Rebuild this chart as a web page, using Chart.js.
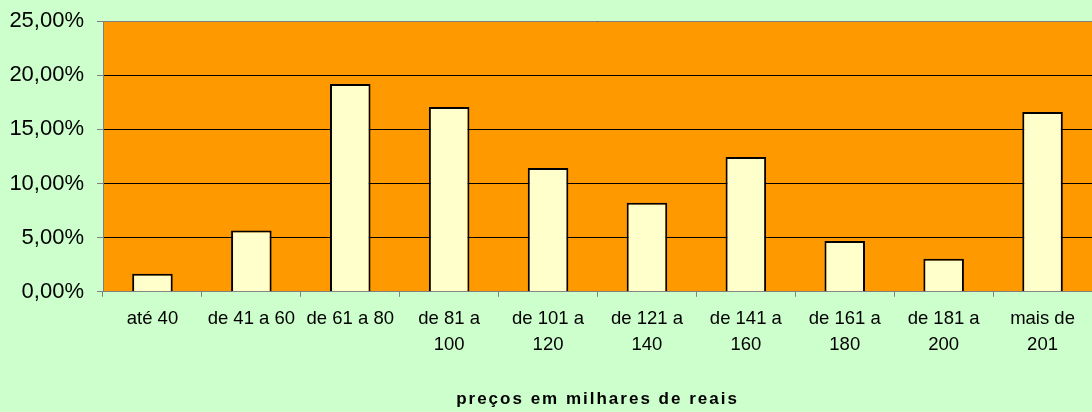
<!DOCTYPE html>
<html>
<head>
<meta charset="utf-8">
<script src="https://cdn.jsdelivr.net/npm/chart.js@4/dist/chart.umd.min.js"></script>
<style>
  html, body { margin: 0; padding: 0; background: #ccffcc; }
  #wrap { width: 1092px; height: 412px; }
</style>
</head>
<body>
<div id="wrap"><canvas id="grafico"></canvas></div>
<script>
// faixas de preço (milhares de reais)
const faixas = [
  "até 40",
  "de 41 a 60",
  "de 61 a 80",
  ["de 81 a", "100"],
  ["de 101 a", "120"],
  ["de 121 a", "140"],
  ["de 141 a", "160"],
  ["de 161 a", "180"],
  ["de 181 a", "200"],
  ["mais de", "201"],
];
// percentual de imóveis em cada faixa
const percentuais = [1.66, 5.67, 19.19, 17.07, 11.44, 8.21, 12.45, 4.70, 3.04, 16.60];
const yMax = 25;
const yPasso = 5;
const tituloX = "preços em milhares de reais";

// fundo laranja da área do gráfico
const fundoPlot = {
  id: "fundoPlot",
  beforeDraw(chart) {
    const { ctx, chartArea: a } = chart;
    ctx.save();
    ctx.fillStyle = "#ff9900";
    ctx.fillRect(a.left, a.top, a.right - a.left, a.bottom - a.top);
    ctx.restore();
  },
  afterDatasetsDraw(chart) {
    const { ctx, chartArea: a } = chart;
    ctx.save();
    ctx.strokeStyle = "#808080";
    ctx.lineWidth = 1;
    ctx.beginPath();
    ctx.moveTo(a.left, a.top + 0.5);
    ctx.lineTo(a.right, a.top + 0.5);
    ctx.stroke();
    ctx.restore();
  },
};

new Chart(document.getElementById("grafico"), {
  type: "bar",
  plugins: [fundoPlot],
  data: {
    labels: faixas,
    datasets: [
      {
        data: percentuais,
        backgroundColor: "#ffffcc",
        borderColor: "#000000",
        borderWidth: 2,
        categoryPercentage: 1,
        barPercentage: 0.41,
      },
    ],
  },
  options: {
    responsive: true,
    maintainAspectRatio: false,
    animation: false,
    layout: { padding: { top: 21, right: 0, left: 0, bottom: 2 } },
    plugins: {
      legend: { display: false },
      tooltip: { enabled: false },
    },
    scales: {
      x: {
        offset: true,
        afterFit(scale) {
          // título com espaçamento entre letras
          if (!scale._espacado) {
            const orig = scale.drawTitle.bind(scale);
            scale.drawTitle = function (area) {
              this.ctx.save();
              this.ctx.letterSpacing = "2px";
              orig(area);
              this.ctx.restore();
            };
            scale._espacado = true;
          }
        },
        grid: {
          offset: true,
          drawOnChartArea: false,
          drawTicks: true,
          tickLength: 5,
          color: "#808080",
        },
        border: { color: "#808080" },
        ticks: {
          color: "#000",
          maxRotation: 0,
          autoSkip: false,
          padding: 9,
          font: { family: "Liberation Sans, Arial", size: 18.5, lineHeight: 1.4 },
        },
        title: {
          display: true,
          text: tituloX,
          color: "#000",
          padding: { top: 23, bottom: 0 },
          font: { family: "Liberation Sans, Arial", size: 17, weight: "bold" },
        },
      },
      y: {
        min: 0,
        max: yMax,
        afterFit(scale) {
          scale.width = 103;
          scale.paddingTop = 0;
          scale.paddingBottom = 0;
        },
        grid: {
          color: "#000",
          tickColor: "#808080",
          tickLength: 6,
        },
        border: { color: "#808080" },
        ticks: {
          stepSize: yPasso,
          color: "#000",
          padding: 13,
          font: { family: "Liberation Sans, Arial", size: 22 },
          callback: (v) => v.toFixed(2).replace(".", ",") + "%",
        },
      },
    },
  },
});
</script>
</body>
</html>
